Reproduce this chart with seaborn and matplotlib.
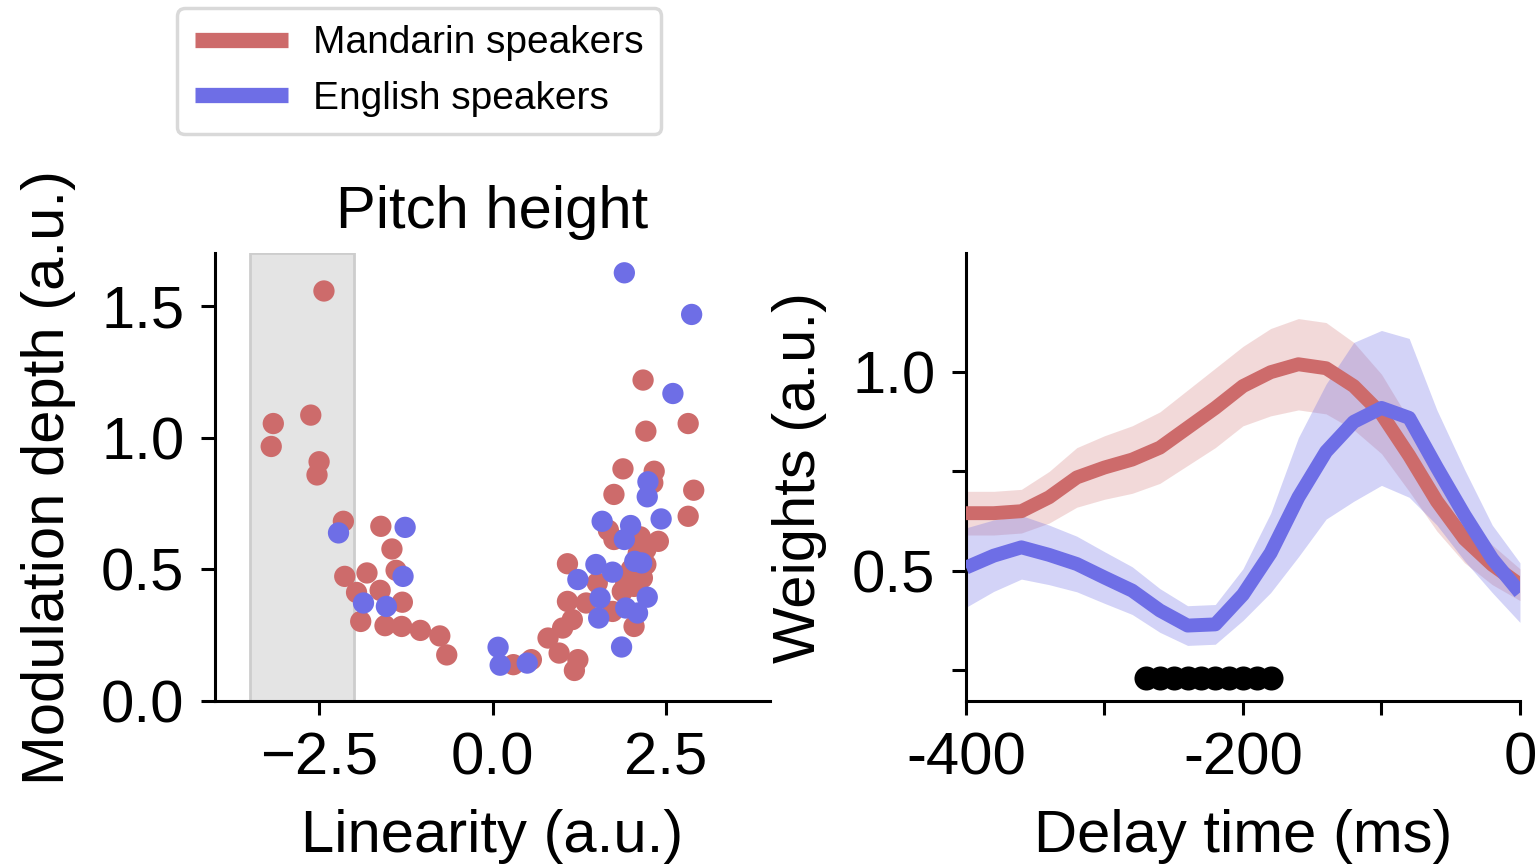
import numpy as np
import pandas as pd
import matplotlib
matplotlib.use("Agg")
import matplotlib.pyplot as plt
from matplotlib.lines import Line2D
import seaborn as sns

# ---------------- data ----------------
mand_x = [-2.43, -3.16, -3.19, -2.62, -2.50, -2.53, -2.15, -2.13, -1.96, -1.90, -1.81,
          -1.61, -1.45, -1.39, -1.62, -1.30, -1.55, -1.31, -1.04, -0.76, -0.66,
          2.17, 2.21, 2.82, 1.88, 2.33, 2.31, 1.75, 2.90, 2.82, 1.67, 1.75, 2.13, 2.39,
          2.21, 1.08, 2.21, 2.16, 1.51, 1.92, 2.04, 1.87, 1.08, 1.35, 1.73, 2.04, 1.15,
          1.01, 0.80, 0.96, 1.23, 1.18, 0.30, 0.56, 2.00, 2.10]
mand_y = [1.556, 1.053, 0.966, 1.085, 0.908, 0.858, 0.682, 0.473, 0.412, 0.302, 0.486,
          0.663, 0.577, 0.496, 0.420, 0.375, 0.286, 0.283, 0.268, 0.247, 0.175,
          1.218, 1.024, 1.053, 0.881, 0.872, 0.828, 0.784, 0.800, 0.701, 0.648, 0.613,
          0.623, 0.606, 0.575, 0.521, 0.518, 0.467, 0.448, 0.448, 0.435, 0.416, 0.378,
          0.372, 0.340, 0.283, 0.309, 0.277, 0.239, 0.182, 0.157, 0.116, 0.138, 0.157,
          0.500, 0.560]
eng_x = [-2.22, -1.26, -1.29, -1.86, -1.53, 0.08, 0.11, 0.50,
         1.90, 2.87, 2.60, 2.24, 2.23, 2.43, 1.58, 1.99, 1.90, 2.05, 2.15, 1.49, 1.73,
         1.23, 2.23, 1.55, 1.92, 2.09, 1.53, 1.86]
eng_y = [0.638, 0.659, 0.473, 0.372, 0.359, 0.204, 0.136, 0.144,
         1.625, 1.467, 1.167, 0.832, 0.775, 0.691, 0.682, 0.666, 0.613, 0.530, 0.524,
         0.518, 0.489, 0.461, 0.394, 0.391, 0.353, 0.334, 0.315, 0.205]

delay = [-400, -380, -360, -340, -320, -300, -280, -260, -240, -220, -200,
         -180, -160, -140, -120, -100, -80, -60, -40, -20, 0]
mand_w = [0.645, 0.645, 0.650, 0.685, 0.735, 0.760, 0.780, 0.810, 0.860, 0.910, 0.965,
          1.000, 1.020, 1.010, 0.965, 0.895, 0.790, 0.675, 0.580, 0.515, 0.465]
mand_sd = [0.055, 0.055, 0.055, 0.065, 0.075, 0.080, 0.085, 0.090, 0.095, 0.100, 0.100,
           0.110, 0.115, 0.115, 0.110, 0.100, 0.090, 0.075, 0.060, 0.050, 0.040]
eng_w = [0.508, 0.538, 0.559, 0.540, 0.517, 0.483, 0.450, 0.400, 0.362, 0.365, 0.440,
         0.545, 0.685, 0.800, 0.875, 0.910, 0.885, 0.760, 0.640, 0.530, 0.445]
eng_sd = [0.100, 0.090, 0.080, 0.075, 0.070, 0.065, 0.060, 0.055, 0.050, 0.050, 0.065,
          0.100, 0.150, 0.170, 0.200, 0.195, 0.200, 0.145, 0.115, 0.085, 0.075]

sig_t = [-270, -260, -250, -240, -230, -220, -210, -200, -190, -180]
sig_level = 0.23

groups = ["Mandarin speakers", "English speakers"]
RED = "#CD6B6B"
BLUE = "#6E6EE6"
palette = {groups[0]: RED, groups[1]: BLUE}

# ---------------- style ----------------
sns.set_style("ticks")
plt.rcParams["font.family"] = ["Liberation Sans", "DejaVu Sans"]
plt.rcParams.update({
    "axes.linewidth": 2.2,
    "xtick.major.width": 2.2,
    "ytick.major.width": 2.2,
    "xtick.major.size": 10,
    "ytick.major.size": 10,
    "xtick.color": "black",
    "ytick.color": "black",
    "axes.edgecolor": "black",
    "text.color": "black",
    "axes.labelcolor": "black",
})

FS = 43

fig = plt.figure(figsize=(15.37, 8.66), dpi=100)
ax1 = fig.add_axes([0.1399, 0.1905, 0.3611, 0.5173])
ax2 = fig.add_axes([0.6285, 0.1905, 0.3604, 0.5173])

# ---------------- left: scatter ----------------
scat = pd.DataFrame({
    "x": mand_x + eng_x,
    "y": mand_y + eng_y,
    "group": [groups[0]] * len(mand_x) + [groups[1]] * len(eng_x),
})
ax1.axvspan(-3.5, -2.0, facecolor="#e4e4e4", edgecolor="#cdcdcd", linewidth=2, zorder=0)
sns.scatterplot(data=scat, x="x", y="y", hue="group", palette=palette, s=235,
                linewidth=0, alpha=1, legend=False, ax=ax1, zorder=3)
ax1.set_xlim(-4.0, 4.0)
ax1.set_ylim(0, 1.7)
ax1.set_xticks([-2.5, 0.0, 2.5])
ax1.set_yticks([0.0, 0.5, 1.0, 1.5])
ax1.set_xlabel("Linearity (a.u.)", fontsize=FS, labelpad=16)
ax1.set_ylabel("Modulation depth (a.u.)", fontsize=FS, labelpad=18)
ax1.set_title("Pitch height", fontsize=FS, pad=18)
ax1.tick_params(labelsize=FS, pad=12)
sns.despine(ax=ax1)

# ---------------- right: lines ----------------
lines = pd.DataFrame({
    "t": delay + delay,
    "w": mand_w + eng_w,
    "group": [groups[0]] * len(delay) + [groups[1]] * len(delay),
})
ax2.fill_between(delay, np.array(mand_w) - np.array(mand_sd), np.array(mand_w) + np.array(mand_sd),
                 color=RED, alpha=0.25, linewidth=0, zorder=1)
ax2.fill_between(delay, np.array(eng_w) - np.array(eng_sd), np.array(eng_w) + np.array(eng_sd),
                 color=BLUE, alpha=0.3, linewidth=0, zorder=1)
sns.lineplot(data=lines, x="t", y="w", hue="group", palette=palette, linewidth=10,
             legend=False, ax=ax2, zorder=3, solid_joinstyle="round", solid_capstyle="butt")
sns.scatterplot(x=sig_t, y=[sig_level] * len(sig_t), color="black", s=300, linewidth=0,
                ax=ax2, zorder=4, legend=False)
ax2.set_xlim(-400, 0)
ax2.set_ylim(0.172, 1.30)
ax2.set_xticks([-400, -300, -200, -100, 0])
ax2.set_xticklabels(["-400", "", "-200", "", "0"])
ax2.set_yticks([0.25, 0.5, 0.75, 1.0])
ax2.set_yticklabels(["", "0.5", "", "1.0"])
ax2.set_xlabel("Delay time (ms)", fontsize=FS, labelpad=16)
ax2.set_ylabel("Weights (a.u.)", fontsize=FS, labelpad=18)
ax2.tick_params(labelsize=FS, pad=12)
sns.despine(ax=ax2)

# ---------------- legend ----------------
handles = [Line2D([0], [0], color=RED, lw=11, solid_capstyle="butt"),
           Line2D([0], [0], color=BLUE, lw=11, solid_capstyle="butt")]
leg = fig.legend(handles, groups, loc="upper left", bbox_to_anchor=(0.1152, 0.9908),
                 fontsize=28, frameon=True, fancybox=True, handlelength=2.4,
                 handletextpad=0.65, labelspacing=0.5, borderaxespad=0, borderpad=0.45)
leg.get_frame().set_edgecolor("#d9d9d9")
leg.get_frame().set_linewidth(2.5)
leg.get_frame().set_alpha(1)

fig.savefig("out.png", dpi=100)
